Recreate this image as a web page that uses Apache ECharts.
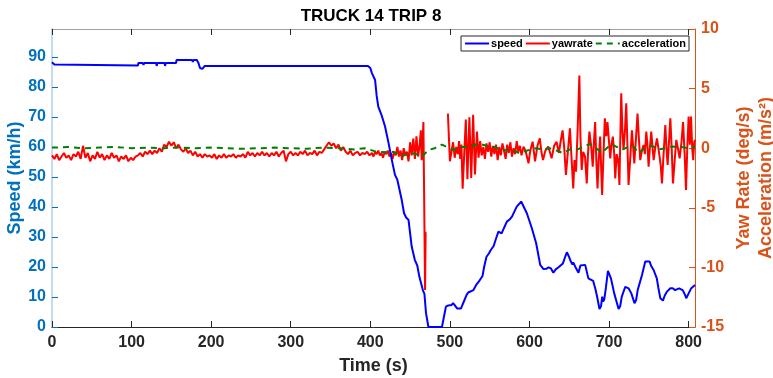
<!DOCTYPE html>
<html>
<head>
<meta charset="utf-8">
<script src="https://cdn.jsdelivr.net/npm/echarts@6/dist/echarts.min.js"></script>
<style>html,body{margin:0;padding:0;background:#fff}#c{width:773px;height:378px}</style>
</head>
<body>
<div id="c"></div>
<script>
var titleText = 'TRUCK 14 TRIP 8';
var xTicks = [0,100,200,300,400,500,600,700,800];
var leftTicks = [0,10,20,30,40,50,60,70,80,90];
var rightTicks = [-15,-10,-5,0,5,10];
var seriesNames = ['speed','yawrate','acceleration'];

var speedTime = [0,2,3,4,5,108,108.5,114,115,116,131,131.5,132.5,141.5,142,143,156,156.5,176,177,178,182,184,186,189,191,192,397,400,402,406,408,410,414,418.5,423,427,431,434,436.5,439.5,442.4,445,448,452,456,459,461.6,466,468,470,473,490,495,498,502,504,506,509,514,516,521,523,529.6,533,536,538,541,543,546,549,551,555,558,561,565,568,571.6,575,578,580,584,589.6,592,596.7,603,608.4,613.5,617.6,621,624,627,630,633,636.5,639,642,645,647,649.5,652,654,655,657.5,659,661.6,664,666,670,674,680,683,685,688,690,691.4,692.5,694,696,698.6,702.4,706.5,712,714,716,720.4,722,724.5,728,732,734,736,741.4,745.5,751,753,756,760,762,764.4,767.7,770,772.8,777,780,783,785,788,790,792.5,795,797,800,803,805,808];
var speedValue = [88.2,88.2,87.5,88,87.1,87.1,88,88,87.3,88,88,87,88,88,87,88,88,89,89,88.3,89,89,88,86.3,86,86.3,87,87,86.3,84.6,82.3,77,73.4,70.7,66.8,61.2,55.7,50.7,49,48.4,42.3,37.9,36.5,35.7,26.8,22.3,20.5,16.8,12.3,11,4.6,0,0,6.8,7.2,7.3,8,7.3,6.2,6.2,7.5,10.7,11.5,12.3,14,15,15.5,17,20,23.4,24.5,25.5,27,29.5,31.8,31.2,33,35.1,35.8,36.8,37.2,40.1,41.8,40.5,37.9,32.9,27.9,20.7,19.3,19.4,19.9,19.5,18.1,19.2,19.9,20.3,21.2,23.5,24.9,23.5,21.8,20.8,21.5,20.1,19.5,18.1,20.5,20.9,20.7,16.2,15.4,12.5,10.1,6,7,10.1,8.5,9.2,13,18.7,16.2,11.2,6,7,10.1,13.4,12.8,12.9,11.2,7.9,9,12.3,17.3,21.8,21.8,20.3,19,16.2,13,9.6,8.8,10.5,11.8,12.9,12.9,12.3,11.8,12.9,12.9,12.3,11,9.6,11.2,12.8,13.2,14];

var yawTime = [0,3,6,9,12,15,18,21,24,27,30,33,36,39,42,45,48,51,54,57,60,63,66,69,72,75,78,81,84,87,90,93,96,99,102,105,108,111,114,117,120,123,126,129,132,135,138,141,144,147,150,153,156,159,162,165,168,171,174,177,180,183,186,189,192,195,198,201,204,207,210,213,216,219,222,225,228,231,234,237,240,243,246,249,252,255,258,261,264,267,270,273,276,279,282,285,288,291,294,297,300,303,306,309,312,315,318,321,324,327,330,333,336,339,342,345,348,351,354,357,360,363,366,369,372,375,378,381,384,387,390,393,396,399,
402,404,406,408,410,412,414,416,418,420,422,424,426,428,430,432,434,436,438,440,442,444,446,448,450,452,454,456,458,460,462,463.5,464.5,465.5,466.7,468.8,469.5,470.5,472,
497.5,499,500,502,504,506,508,510,511.5,513,514.5,516,518,520,522,524.5,526.8,529.2,531.5,534,536,538,540,542,544,546,548,550,552,554,556,558,560,562,564,566,568,570,572,574,576,578,580,582,584,586,588,590,592.5,595,598.8,601,604,607,610,613,615,617,620,623.6,625.5,627.8,631,634,637,639,641.6,643.5,645.8,648,650.8,653,655,656.5,658.5,660.5,662.7,664,665.6,667.5,669.8,672,673.5,675.3,677.5,679.5,681,682.5,684,685.5,687,688.8,690,691.3,693,694.7,696.5,698,700,701.5,703,704.8,706.5,707.8,709.5,711,712,713,714.2,715.3,716.8,718.2,720,721.6,723,724.5,726.5,728.7,730.2,731.7,733.8,735.8,737.5,739.2,741.3,743.4,745,746.8,748.3,749.7,751.3,753,754.5,756,758,760.2,762,763.5,765,766.5,768.5,770.7,772,773.6,775.3,777,778.7,780.3,782.5,784.5,786.5,788.7,791,793,795,796.7,798.3,800,801.5,803,804.5,805.7,807,808];
var yawValue = [-0.6,-0.9,-0.5,-1.0,-0.7,-0.4,-0.8,-0.6,-1.0,-0.5,-0.7,-0.3,-0.9,0.2,-0.8,-0.4,-1.1,-0.6,-0.9,-0.3,-0.8,-0.5,-1.0,-0.6,-0.9,-0.4,-0.8,-0.6,-1.1,-0.7,-0.9,-0.6,-1.1,-0.8,-1.0,-0.7,-0.6,-0.4,-0.7,-0.3,-0.5,-0.2,-0.5,-0.2,-0.4,0.0,-0.3,0.3,0.1,0.55,0.2,0.5,0.0,0.3,-0.1,-0.3,0.0,-0.4,-0.2,-0.6,-0.3,-0.7,-0.5,-0.8,-0.5,-0.7,-0.6,-0.8,-0.5,-0.9,-0.6,-0.8,-0.5,-0.8,-0.6,-0.7,-0.5,-0.8,-0.6,-0.7,-0.5,-0.8,-0.3,-0.6,-0.4,-0.7,-0.4,-0.6,-0.3,-0.6,-0.4,-0.7,-0.4,-0.6,-0.3,-0.7,-0.4,-0.2,-1.1,-0.5,-0.3,-0.6,-0.4,-0.6,-0.3,-0.5,-0.2,-0.6,-0.4,-0.5,-0.2,-0.6,-0.3,-0.4,-0.1,0.2,0.5,0.2,0.4,0.0,0.3,-0.2,0.1,-0.3,-0.5,-0.2,-0.6,-0.4,-0.3,-0.6,-0.4,-0.5,-0.3,-0.6,
-0.4,-0.7,-0.3,-0.5,-0.2,-0.6,-0.4,-0.8,-0.3,-0.5,-0.2,-0.7,-0.4,-0.9,-0.3,-0.6,0.1,-0.7,-0.2,-1.0,0.0,-0.6,-0.3,-1.1,0.5,-0.6,0.8,-0.9,1.0,-0.7,0.3,1.5,-1.0,0.3,2.2,-11.9,-7.1,-7.1,null,
2.9,0.5,-1.1,-0.3,0.5,-0.8,0.1,-0.5,0.6,-0.9,0.3,-3.4,-0.5,2.4,-2.6,2.6,-2.5,2.8,-2.2,1.4,-0.8,0.6,-0.6,0.1,-0.9,0.4,-0.3,0.5,-0.7,0.2,-0.5,0.3,-1.0,0.1,-0.6,0.4,-0.2,-0.9,0.3,-0.4,0.5,-0.7,0.0,-0.5,0.6,-0.3,0.2,-0.6,0.13,-0.2,-1.27,-0.2,0.55,-1.1,0.2,0.83,-0.3,-1.0,-0.2,0.13,-0.3,-0.85,0.2,0.55,-0.4,0.5,1.5,0.2,-2.25,-0.5,1.67,-1.0,-3.37,-1.0,-1.97,1.5,6.1,1.0,-1.83,-0.3,-0.71,-2.95,-0.5,1.39,0.2,-1.55,0.5,2.2,-1.0,-3.37,-1.0,0.97,-1.5,-3.93,-0.5,2.5,1.0,2.2,0.5,-0.85,0.3,0.97,-0.5,-2.53,-0.5,-0.85,-1.5,-3.09,1.0,4.6,1.5,-0.15,1.5,3.76,0.5,-3.09,-1.0,1.5,0.2,-1.27,0.8,2.9,0.8,-1.0,-0.2,0.27,-0.5,1.39,0.2,-1.55,0.0,1.39,0.2,-1.0,0.0,0.83,0.0,-0.7,-1.5,-2.95,-0.5,1.95,0.2,-1.4,0.5,2.5,0.0,-2.95,-1.0,0.7,0.0,-0.85,0.5,2.2,-0.5,-3.5,0.0,2.65,0.3,2.65,0.0,-1.0,0.5,0.7];

var accTime = [0,20,40,60,80,100,120,140,160,180,200,220,240,260,280,300,320,340,360,380,393,408,420,429,439,450,458,465,473,481,490,496,504,515,525,536,546,556,566,576,587,597,608,617,625,634,642,651,659,667,676,684,691,697,703,710,717,724,730,737,745,754,762,771,780,790,800,808];
var accValue = [0.05,0.1,0.0,0.05,0.1,0.0,0.05,0.0,0.05,0.0,0.05,0.0,-0.05,0.0,0.05,0.0,-0.05,0.05,0.0,-0.1,0.0,-0.3,-0.35,-0.3,-0.7,-0.4,-0.5,-0.7,-0.15,0.0,0.3,0.1,-0.15,0.1,0.1,0.4,0.2,0.1,-0.2,-0.1,-0.4,-0.2,0.0,-0.1,0.0,-0.2,-0.4,-0.1,-0.15,0.1,0.35,0.0,-0.4,0.0,0.35,0.1,-0.1,0.1,0.2,-0.4,0.0,0.2,-0.1,0.0,0.15,0.1,0.0,0.1];

function pairs(t, v){ return t.map(function(x,i){ return [x, v[i]]; }); }

var FONT = "'Liberation Sans', Arial, Helvetica, sans-serif";
var BLUE_AX = '#0072BD', ORANGE_AX = '#D95319', DARK = '#262626';

var chart = echarts.init(document.getElementById('c'), null, {renderer:'canvas'});
chart.setOption({
  animation: false,
  backgroundColor: '#ffffff',
  title: {
    text: titleText, left: 371, top: 8, textAlign: 'center', padding: 0,
    textStyle: {fontFamily: FONT, fontWeight: 'bold', fontSize: 17, color: '#000'}
  },
  legend: {
    data: seriesNames, right: 84, top: 36, padding: [2,3,2,3], itemGap: 2,
    itemWidth: 24, itemHeight: 10, borderColor: DARK, borderWidth: 1,
    backgroundColor: '#fff',
    itemStyle: {opacity: 0},
    textStyle: {fontFamily: FONT, fontWeight: 'bold', fontSize: 11, color: '#000', padding: [0,0,0,-3]}
  },
  grid: {left: 52, right: 78, top: 29, bottom: 51, containLabel: false, outerBoundsMode: 'none'},
  xAxis: [{
    type: 'value', min: 0, max: 808, interval: 100,
    name: 'Time (s)', nameLocation: 'middle', nameGap: 30, nameMoveOverlap: false,
    nameTextStyle: {fontFamily: FONT, fontWeight: 'bold', fontSize: 18, color: DARK},
    axisLine: {onZero: false, lineStyle: {color: DARK, width: 1}},
    axisTick: {inside: true, length: 6, lineStyle: {color: DARK}, customValues: xTicks},
    axisLabel: {customValues: xTicks, margin: 8, fontFamily: FONT, fontWeight: 'bold', fontSize: 16, color: DARK},
    splitLine: {show: false}
  }, {
    type: 'value', position: 'top', min: 0, max: 808, interval: 100,
    axisLine: {onZero: false, lineStyle: {color: '#a0a0a0', width: 1}},
    axisTick: {inside: true, length: 6, lineStyle: {color: DARK}, customValues: xTicks},
    axisLabel: {show: false},
    splitLine: {show: false}
  }],
  yAxis: [{
    type: 'value', position: 'left', min: 0, max: 99.3, interval: 10,
    name: 'Speed (km/h)', nameLocation: 'middle', nameGap: 28, nameMoveOverlap: false,
    nameTextStyle: {fontFamily: FONT, fontWeight: 'bold', fontSize: 18, color: BLUE_AX},
    axisLine: {show: true, onZero: false, lineStyle: {color: '#c3dcf0', width: 2}},
    axisTick: {inside: true, length: 6, lineStyle: {color: BLUE_AX}, customValues: leftTicks},
    axisLabel: {customValues: leftTicks, margin: 6, fontFamily: FONT, fontWeight: 'bold', fontSize: 16, color: BLUE_AX},
    splitLine: {show: false}
  }, {
    type: 'value', position: 'right', min: -15, max: 10, interval: 5,
    name: 'Yaw Rate (deg/s)\nAcceleration (m/s²)', nameLocation: 'middle', nameGap: 38, nameRotate: 90, nameMoveOverlap: false,
    nameTextStyle: {fontFamily: FONT, fontWeight: 'bold', fontSize: 18, color: ORANGE_AX, lineHeight: 22},
    axisLine: {show: true, onZero: false, lineStyle: {color: ORANGE_AX, width: 1}},
    axisTick: {inside: true, length: 6, lineStyle: {color: ORANGE_AX}, customValues: rightTicks},
    axisLabel: {customValues: rightTicks, margin: 6, fontFamily: FONT, fontWeight: 'bold', fontSize: 16, color: ORANGE_AX},
    splitLine: {show: false}
  }],
  series: [{
    name: 'speed', type: 'line', xAxisIndex: 0, yAxisIndex: 0, data: pairs(speedTime, speedValue),
    showSymbol: false, symbol: 'none', color: '#0000FF', lineStyle: {width: 2, color: '#0000FF'}, z: 3
  }, {
    name: 'yawrate', type: 'line', xAxisIndex: 0, yAxisIndex: 1, data: pairs(yawTime, yawValue),
    showSymbol: false, symbol: 'none', connectNulls: false, color: '#FF0000', lineStyle: {width: 2, color: '#FF0000'}, z: 2
  }, {
    name: 'acceleration', type: 'line', xAxisIndex: 0, yAxisIndex: 1, data: pairs(accTime, accValue),
    showSymbol: false, symbol: 'none', color: '#008000', lineStyle: {width: 2, color: '#008000', type: [6,5]}, z: 4
  }]
});
</script>
</body>
</html>
